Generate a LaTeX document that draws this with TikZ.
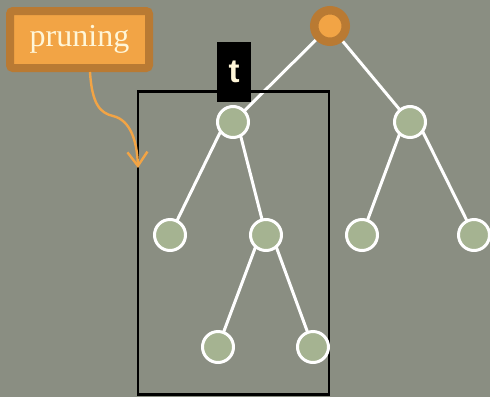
\documentclass[tikz,border=0pt]{standalone}
\usepackage{fontspec}
\setmainfont{Liberation Serif}
\newfontfamily\labelsans{Liberation Sans}
\usetikzlibrary{arrows.meta}
\definecolor{slate}{HTML}{8A8E82}
\definecolor{leafgreen}{HTML}{A5B391}
\definecolor{amber}{HTML}{F2A445}
\definecolor{amberdark}{HTML}{B97A33}
\definecolor{cream}{HTML}{FFF6D8}
\tikzset{
  treenode/.style={circle, draw=white, line width=3pt, fill=leafgreen, minimum size=31pt, inner sep=0pt},
  rootnode/.style={circle, draw=amberdark, line width=8.5pt, fill=amber, minimum size=31.5pt, inner sep=0pt},
  branch/.style={draw=white, line width=3pt},
  tagbox/.style={fill=black, minimum width=34pt, minimum height=60pt, inner sep=0pt,
                 text=cream, font=\labelsans\bfseries\fontsize{33}{33}\selectfont},
  notebox/.style={fill=amber, draw=amberdark, line width=8pt, rounded corners=3pt,
                  minimum width=139pt, minimum height=57pt, inner sep=0pt,
                  text=cream, font=\fontsize{32}{32}\selectfont},
  pointer/.style={draw=amber, line width=2.4pt, -{Straight Barb[length=14pt,width=20pt]}},
}
\begin{document}
\begin{tikzpicture}[x=1pt,y=-1pt]
  % canvas
  \fill[slate] (0,0) rectangle (490,397);
  \useasboundingbox (0,0) rectangle (490,397);

  % tree vertices
  \coordinate (r) at (330,26);
  \coordinate (a) at (233,122);
  \coordinate (b) at (410,122);
  \coordinate (a1) at (170,235);
  \coordinate (a2) at (266,235);
  \coordinate (a21) at (218,347);
  \coordinate (a22) at (313,347);
  \coordinate (b1) at (362,235);
  \coordinate (b2) at (474,235);

  % branches, leaving each parent from its lowest point
  \draw[branch] (r) -- (a);
  \draw[branch] (r) -- (b);
  \draw[branch] ([yshift=16pt]a) -- (a1);
  \draw[branch] ([yshift=16pt]a) -- (a2);
  \draw[branch] ([yshift=16pt]a2) -- (a21);
  \draw[branch] ([yshift=16pt]a2) -- (a22);
  \draw[branch] ([yshift=16pt]b) -- (b1);
  \draw[branch] ([yshift=16pt]b) -- (b2);

  % subtree frame
  \node[draw=black, line width=2.8pt, minimum width=191pt, minimum height=303pt, inner sep=0pt]
    (frame) at (233.5,243) {};

  % vertices
  \node[rootnode] (nr) at (r) {};
  \foreach \v in {a,b,a1,a2,a21,a22,b1,b2}
    \node[treenode] (n\v) at (\v) {};

  % subtree tag
  \node[tagbox] (tag) at (234,72) {t};

  % annotation
  \node[notebox] (note) at (79.5,39.5) {pruning};
  \coordinate (tip) at (138,168);
  \draw[pointer] (note.south -| 90,0) .. controls (92,104) and (100,113) .. (113,116)
                 .. controls (130,120) and (137,140) .. (tip);
\end{tikzpicture}
\end{document}
